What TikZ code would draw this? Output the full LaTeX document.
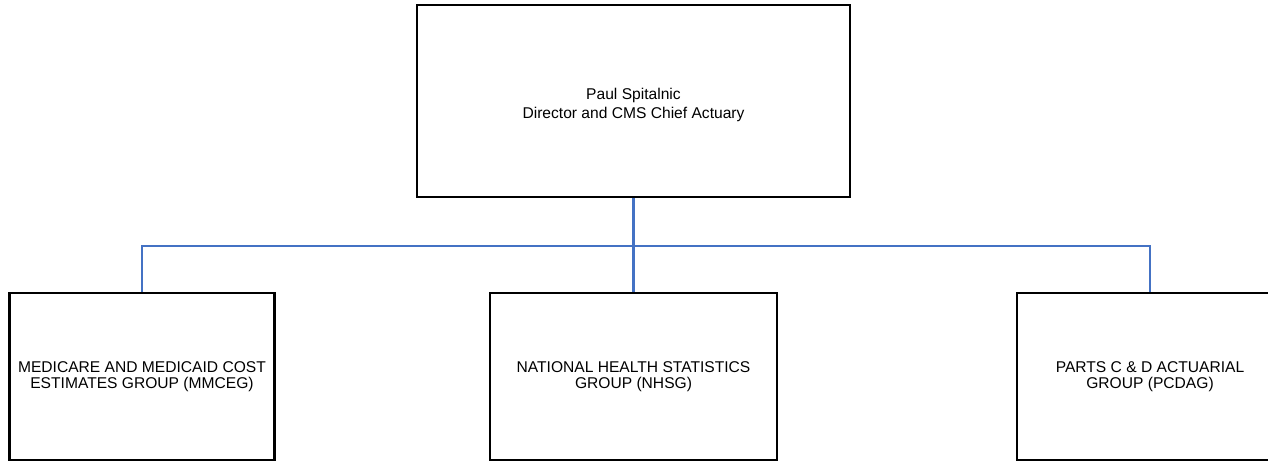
\documentclass[tikz,border=0pt]{standalone}
\usepackage{fontspec}
\setmainfont{Liberation Sans}
\begin{document}
\begin{tikzpicture}[x=1pt,y=-1pt,
  box/.style={draw=black, line width=2.9pt, rectangle, inner sep=0pt, align=center,
    font=\fontsize{15.6pt}{16pt}\selectfont},
  topbox/.style={box, minimum width=433pt, minimum height=192pt,
    font=\fontsize{15.6pt}{19.5pt}\selectfont},
  link/.style={draw={rgb,255:red,68;green,114;blue,196}, line width=2.9pt}]
\useasboundingbox (0,0) rectangle (1268,462);
\clip (0,0) rectangle (1268,462);
\node[topbox] (top) at (633.5,101) {\rule{0pt}{19pt}Paul Spitalnic\\Director and CMS Chief Actuary};
\node[box, minimum width=265pt, minimum height=167pt] (mmceg) at (142,376.5)
  {MEDICARE AND MEDICAID COST\\ESTIMATES GROUP (MMCEG)};
\node[box, minimum width=287pt, minimum height=167pt] (nhsg) at (633.5,376.5)
  {NATIONAL HEALTH STATISTICS\\GROUP (NHSG)};
\node[box, minimum width=266pt, minimum height=167pt] (pcdag) at (1150,376.5)
  {PARTS C \& D ACTUARIAL\\GROUP (PCDAG)};
\coordinate (bus) at (0,246);
\draw[link] (top.south) -- (nhsg.north);
\draw[link] (mmceg.north) -- (mmceg.north |- bus) -- (pcdag.north |- bus) -- (pcdag.north);
\end{tikzpicture}
\end{document}
